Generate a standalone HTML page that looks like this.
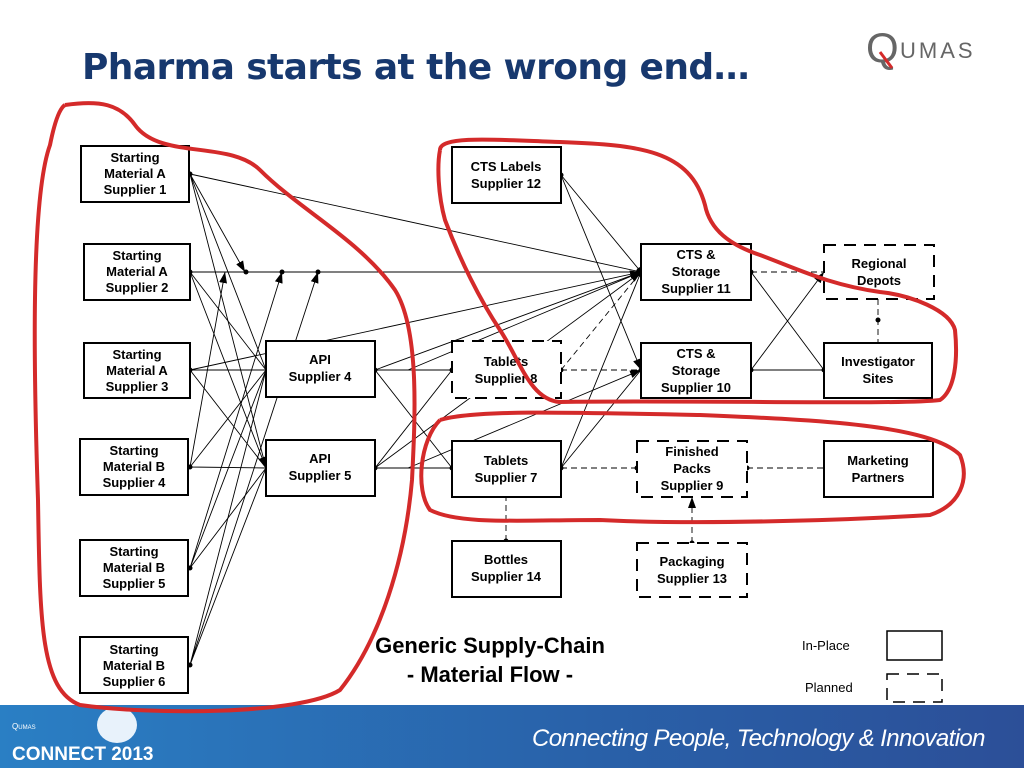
<!DOCTYPE html>
<html><head><meta charset="utf-8"><style>
body{margin:0;width:1024px;height:768px;overflow:hidden;background:#fff;font-family:"Liberation Sans",sans-serif;position:relative}
.t{position:absolute;left:82px;top:47px;font-family:"DejaVu Sans",sans-serif;font-size:36px;font-weight:bold;color:#17386e;letter-spacing:-0.6px}
.ban{position:absolute;left:0;top:705px;width:1024px;height:63px;background:linear-gradient(90deg,#2a7fc4,#2960a8 60%,#2c4f98)}
</style></head><body>
<div class="t">Pharma starts at the wrong end…</div>
<div style="position:absolute;left:866px;top:24px;font-size:42px;color:#666;">Q</div>
<svg style="position:absolute;left:878px;top:50px" width="20" height="20"><path d="M2,2L14,18" stroke="#d42a2a" stroke-width="3"/></svg>
<div style="position:absolute;left:900px;top:38px;font-size:22px;color:#666;letter-spacing:3px">UMAS</div>
<div class="ban">
<div style="position:absolute;left:97px;top:2px;width:40px;height:36px;background:#e8f2fb;border-radius:50%"></div>
<div style="position:absolute;left:12px;top:17px;font-size:8px;color:#fff">Q<span style="font-size:6px">UMAS</span></div>
<div style="position:absolute;left:12px;top:39px;font-size:19px;font-weight:bold;color:#fff">CONNECT 2013</div>
<div style="position:absolute;left:532px;top:20px;font-size:24px;font-style:italic;color:#fff;letter-spacing:-0.6px">Connecting People, Technology &amp; Innovation</div>
</div>
<svg width="1024" height="768" style="position:absolute;left:0;top:0" font-family="Liberation Sans,sans-serif">
<defs><marker id="a" markerUnits="userSpaceOnUse" markerWidth="11" markerHeight="8" refX="11" refY="4" orient="auto"><path d="M0,0L11,4L0,8z" fill="#000"/></marker></defs>
<g stroke="#000" stroke-width="0.9" fill="none" marker-end="url(#a)">
<path d="M190,174L266,370M190,174L266,468M190,174L641,272M190,174L245,272"/>
<path d="M190,272L641,272M190,272L266,370M190,272L266,468"/>
<path d="M190,370L266,370M190,370L266,468M190,370L641,272"/>
<path d="M190,467L266,370M190,467L266,468M190,467L225,272"/>
<path d="M190,568L266,370M190,568L266,468M190,568L282,272"/>
<path d="M190,665L266,370M190,665L266,468M190,665L318,272"/>
<path d="M375,370L452,370M375,370L452,468M375,468L452,468M375,468L452,370M375,370L641,272M375,468L641,272"/>
<path d="M408,370L641,272M408,468L641,370"/>
<path d="M561,468L641,272M561,468L641,370M561,175L641,272M561,175L641,370"/>
<path d="M751,272L824,370M751,370L824,370M751,370L824,272"/>
</g>
<g stroke="#000" stroke-width="0.9" fill="none" stroke-dasharray="6,4" marker-end="url(#a)">
<path d="M561,370L641,370M561,370L641,272M561,468L637,468M751,272L824,272M878,299L878,343M747,468L824,468M506,541L506,497M692,543L692,497"/>
</g>
<g fill="#000">
<circle cx="190" cy="174" r="2.5"/><circle cx="190" cy="272" r="2.5"/><circle cx="190" cy="370" r="2.5"/><circle cx="190" cy="467" r="2.5"/><circle cx="190" cy="568" r="2.5"/><circle cx="190" cy="665" r="2.5"/>
<circle cx="246" cy="272" r="2.5"/><circle cx="282" cy="272" r="2.5"/><circle cx="318" cy="272" r="2.5"/>
<circle cx="375" cy="370" r="2.5"/><circle cx="375" cy="468" r="2.5"/><circle cx="452" cy="370" r="2.5"/><circle cx="452" cy="468" r="2.5"/>
<circle cx="561" cy="370" r="2.5"/><circle cx="561" cy="468" r="2.5"/><circle cx="561" cy="175" r="2.5"/><circle cx="641" cy="272" r="5"/><circle cx="641" cy="370" r="2.5"/>
<circle cx="751" cy="272" r="2.5"/><circle cx="751" cy="370" r="2.5"/><circle cx="824" cy="370" r="2.5"/><circle cx="506" cy="541" r="2.5"/><circle cx="692" cy="543" r="2.5"/>
<circle cx="637" cy="468" r="2.5"/><circle cx="747" cy="468" r="2.5"/><circle cx="878" cy="320" r="2.5"/>
</g>
<g fill="#fff" stroke="#000" stroke-width="2">
<rect x="81" y="146" width="108" height="56"/><rect x="84" y="244" width="106" height="56"/><rect x="84" y="343" width="106" height="55"/>
<rect x="80" y="439" width="108" height="56"/><rect x="80" y="540" width="108" height="56"/><rect x="80" y="637" width="108" height="56"/>
<rect x="266" y="341" width="109" height="56"/><rect x="266" y="440" width="109" height="56"/>
<rect x="452" y="147" width="109" height="56"/><rect x="452" y="441" width="109" height="56"/><rect x="452" y="541" width="109" height="56"/>
<rect x="641" y="244" width="110" height="56"/><rect x="641" y="343" width="110" height="55"/><rect x="824" y="343" width="108" height="55"/><rect x="824" y="441" width="109" height="56"/>
<rect x="887" y="631" width="55" height="29" stroke-width="1.5"/>
</g>
<g fill="#fff" stroke="#000" stroke-width="2" stroke-dasharray="12,8">
<rect x="452" y="341" width="109" height="57"/><rect x="637" y="441" width="110" height="56"/><rect x="637" y="543" width="110" height="54"/><rect x="824" y="245" width="110" height="54"/>
<rect x="887" y="674" width="55" height="28" stroke-width="1.5"/>
</g>
<g font-size="13" font-weight="bold" text-anchor="middle" fill="#000">
<text x="135" y="162">Starting</text><text x="135" y="178">Material A</text><text x="135" y="194">Supplier 1</text>
<text x="137" y="260">Starting</text><text x="137" y="276">Material A</text><text x="137" y="292">Supplier 2</text>
<text x="137" y="359">Starting</text><text x="137" y="375">Material A</text><text x="137" y="391">Supplier 3</text>
<text x="134" y="455">Starting</text><text x="134" y="471">Material B</text><text x="134" y="487">Supplier 4</text>
<text x="134" y="556">Starting</text><text x="134" y="572">Material B</text><text x="134" y="588">Supplier 5</text>
<text x="134" y="654">Starting</text><text x="134" y="670">Material B</text><text x="134" y="686">Supplier 6</text>
<text x="320" y="364">API</text><text x="320" y="381">Supplier 4</text>
<text x="320" y="463">API</text><text x="320" y="480">Supplier 5</text>
<text x="506" y="171">CTS Labels</text><text x="506" y="188">Supplier 12</text>
<text x="506" y="366">Tablets</text><text x="506" y="383">Supplier 8</text>
<text x="506" y="465">Tablets</text><text x="506" y="482">Supplier 7</text>
<text x="506" y="564">Bottles</text><text x="506" y="581">Supplier 14</text>
<text x="696" y="259">CTS &amp;</text><text x="696" y="276">Storage</text><text x="696" y="293">Supplier 11</text>
<text x="696" y="358">CTS &amp;</text><text x="696" y="375">Storage</text><text x="696" y="392">Supplier 10</text>
<text x="692" y="456">Finished</text><text x="692" y="473">Packs</text><text x="692" y="490">Supplier 9</text>
<text x="692" y="566">Packaging</text><text x="692" y="583">Supplier 13</text>
<text x="879" y="268">Regional</text><text x="879" y="285">Depots</text>
<text x="878" y="366">Investigator</text><text x="878" y="383">Sites</text>
<text x="878" y="465">Marketing</text><text x="878" y="482">Partners</text>
<text x="490" y="653" font-size="22">Generic Supply-Chain</text><text x="490" y="682" font-size="22">- Material Flow -</text>
</g>
<text x="802" y="650" font-size="13">In-Place</text><text x="805" y="692" font-size="13">Planned</text>
<g stroke="#d42a2a" stroke-width="4" fill="none" stroke-linejoin="round">
<path d="M65,105C100,100 120,104 135,125C160,160 230,140 260,170C300,210 360,240 395,290C420,330 415,420 412,480C405,560 380,640 340,690C300,715 150,715 80,705C40,690 40,620 38,500C34,380 30,200 50,145C55,120 60,108 65,105"/>
<path d="M440,150C440,135 500,140 560,142C640,145 690,150 705,205C710,230 730,245 760,255C800,270 830,285 880,292C910,295 950,310 955,330C958,360 955,390 940,400C900,405 700,400 560,402C530,400 520,360 500,330C480,300 460,260 445,220C438,195 437,165 440,150"/>
<path d="M440,420C470,410 560,412 700,415C820,420 930,425 960,455C970,480 960,505 930,515C850,520 700,525 600,520C520,520 460,525 430,510C415,490 420,440 440,420"/>
</g>
</svg>
</body></html>
